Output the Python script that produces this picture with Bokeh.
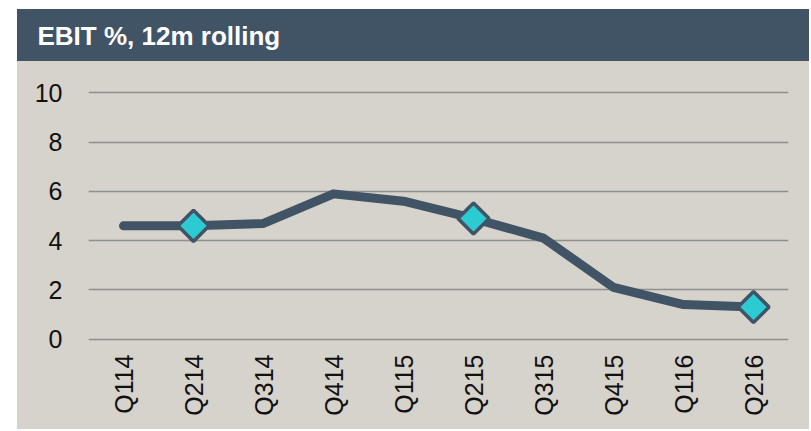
import math
from bokeh.plotting import figure
from bokeh.models import Range1d, Label, SingleIntervalTicker
from bokeh.embed import file_html
from bokeh.resources import INLINE

# ---- data ----
quarters = ["Q114", "Q214", "Q314", "Q414", "Q115", "Q215", "Q315", "Q415", "Q116", "Q216"]
ebit_pct = [4.6, 4.6, 4.7, 5.9, 5.6, 4.9, 4.1, 2.1, 1.4, 1.3]
marked_quarters = ["Q214", "Q215", "Q216"]
marked_values = [4.6, 4.9, 1.3]
title_text = "EBIT %, 12m rolling"
y_min, y_max, y_step = 0, 10, 2

# ---- styles ----
DARK = "#415465"
BG = "#d6d2cc"
CYAN = "#2ccbd3"
GRID = "#8f8f8f"
FONT = "Liberation Sans"
W = 792
LB, RB = 71, 21
PAD = 0.1  # small range padding so the end grid lines are not clipped

head = figure(width=W, height=52, output_backend="svg", toolbar_location=None,
              x_range=Range1d(0, 1), y_range=Range1d(0, 1),
              min_border_left=0, min_border_right=0, min_border_top=0, min_border_bottom=0,
              background_fill_color=DARK, border_fill_color=DARK, outline_line_color=None,
              margin=(9, 0, 0, 17), styles={"background-color": DARK})
head.axis.visible = False
head.grid.visible = False
head.add_layout(Label(x=20, y=26, x_units="screen", y_units="screen", text=title_text,
                      text_font=FONT, text_font_style="bold", text_font_size="26px",
                      text_color="white", text_baseline="middle", text_align="left"))

p = figure(width=W, height=368, output_backend="svg", toolbar_location=None,
           x_range=quarters, y_range=Range1d(y_min - PAD, y_max + PAD),
           min_border_left=LB, min_border_right=RB, min_border_top=29, min_border_bottom=88,
           background_fill_color=BG, border_fill_color=BG, outline_line_color=None,
           margin=(0, 0, 0, 17), styles={"background-color": BG})

p.xgrid.visible = False
p.ygrid.grid_line_color = GRID
p.ygrid.grid_line_width = 1.5
p.yaxis.ticker = SingleIntervalTicker(interval=y_step)

for ax in (p.xaxis, p.yaxis):
    ax.axis_line_color = None
    ax.major_tick_line_color = None
    ax.minor_tick_line_color = None
    ax.major_tick_out = 0
    ax.major_tick_in = 0
    ax.major_label_text_font = FONT
    ax.major_label_text_font_size = "25px"
    ax.major_label_text_color = "#111111"

p.yaxis.major_label_standoff = 22
p.xaxis.major_label_standoff = 13
p.xaxis.major_label_orientation = math.pi / 2

p.line(quarters, ebit_pct, line_width=9, line_color=DARK, line_cap="round", line_join="round")
p.scatter(marked_quarters, marked_values, marker="square", angle=math.pi / 4, size=22,
          fill_color=CYAN, line_color=DARK, line_width=3.5)

open("out.html", "w").write(file_html([head, p], INLINE))
